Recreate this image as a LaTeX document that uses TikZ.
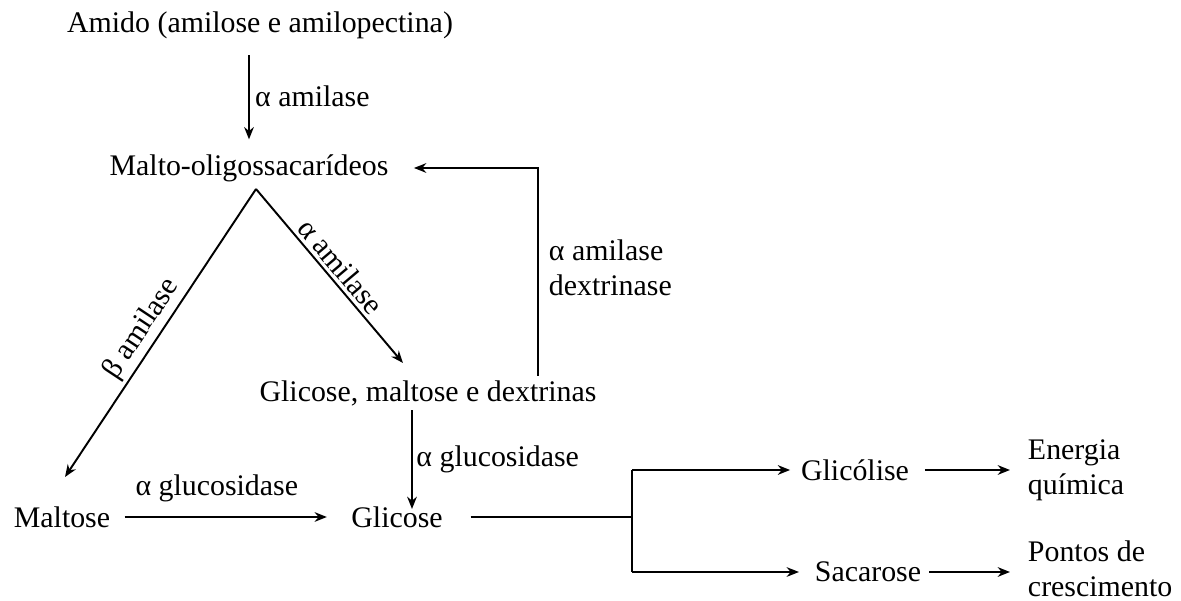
\documentclass[tikz,border=0pt]{standalone}
\usepackage{fontspec}
\setmainfont{Liberation Serif}
\usetikzlibrary{positioning, calc, arrows.meta}

\begin{document}
\begin{tikzpicture}[>={Stealth[length=7pt,width=5.5pt]}, line width=1.1pt,
    every node/.style={font=\fontsize{17}{20}\selectfont, inner sep=2pt},
    twoline/.style={align=left, anchor=west}]
    % Page size
    \useasboundingbox (0,0) rectangle (23.62,-12.02);

    % Compounds
    \node (amido) at (5.20,-0.50) {Amido (amilose e amilopectina)};
    \node (malto) at (4.98,-3.36) {Malto-oligossacarídeos};
    \node (glimd) at (8.56,-7.86) {Glicose, maltose e dextrinas};
    \node (maltose) at (1.24,-10.34) {Maltose};
    \node (glicose) at (7.94,-10.34) {Glicose};
    \node (glicolise) at (17.10,-9.40) {Glicólise};
    \node (sacarose) at (17.36,-11.44) {Sacarose};
    \node[twoline] (energia) at (20.47,-9.40) {Energia\\química};
    \node[twoline] (pontos) at (20.47,-11.37) {Pontos de\\crescimento};

    % Helper points
    \coordinate (apex) at (5.12,-3.78);
    \coordinate (mtop) at (1.30,-9.54);
    \coordinate (gtop) at (8.06,-7.26);
    \coordinate (fb) at (10.76,-3.36);
    \coordinate (jn) at (12.64,-10.34);

    % Starch breakdown
    \draw[->, shorten <=7pt, shorten >=6pt] (amido.south -| malto) -- (malto.north)
        node[midway, right, xshift=1pt] (lamil) {α amilase};
    \draw[->] (apex) -- (mtop)
        node[pos=0.52, sloped, above] (lbeta) {β amilase};
    \draw[->] (apex) -- (gtop)
        node[pos=0.5, sloped, above] (lalfa) {α amilase};

    % Feedback to malto-oligosaccharides
    \draw[->, shorten >=12pt] (glimd.north -| fb) -- (fb) -- (malto.east);
    \node[twoline] (amdex) at (10.89,-5.36) {α amilase\\dextrinase};

    % Glucose formation
    \draw[->] ([xshift=-0.32cm]glimd.south) -- ([xshift=0.30cm, yshift=-0.14cm]glicose.north)
        node[midway, right] (lglu1) {α glucosidase};
    \draw[->, shorten <=0.2cm, shorten >=0.4cm] (maltose.east) -- (glicose.west)
        node[pos=0.44, above=6pt] (lglu2) {α glucosidase};

    % Fate of glucose
    \draw[shorten <=0.47cm] (glicose.east) -- (jn);
    \draw (jn |- glicolise) -- (jn |- sacarose);
    \draw[->, shorten >=0.13cm] (jn |- glicolise) -- (glicolise);
    \draw[->, shorten >=0.23cm] (jn |- sacarose) -- (sacarose);
    \draw[->, shorten <=0.23cm, shorten >=0.27cm] (glicolise) -- (glicolise -| energia.west);
    \draw[->, shorten <=0.07cm, shorten >=0.27cm] (sacarose) -- (sacarose -| pontos.west);
\end{tikzpicture}
\end{document}
